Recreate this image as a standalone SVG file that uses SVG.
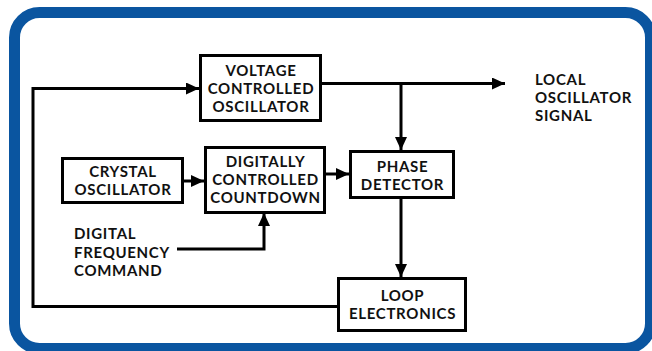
<svg xmlns="http://www.w3.org/2000/svg" width="652" height="351" viewBox="0 0 652 351">
<style>
.box{fill:#fff;stroke:#000;stroke-width:3}
.ln{fill:none;stroke:#000;stroke-width:3}
text{font-family:Lato,"Open Sans","Liberation Sans",sans-serif;font-weight:bold;font-size:15px;letter-spacing:0.7px;fill:#111}
.c{text-anchor:middle}
</style>
<defs>
<marker id="ah" viewBox="0 0 13 12" refX="13" refY="6" markerWidth="13" markerHeight="12" markerUnits="userSpaceOnUse" orient="auto">
<path d="M0,0 L13,6 L0,12 Z" fill="#000"/>
</marker>
</defs>
<rect width="652" height="351" fill="#fff"/>
<rect id="frame" x="14.5" y="12.5" width="636" height="336" rx="25" fill="#fff" stroke="#0a55a0" stroke-width="11"/>
<g id="connectors">
<path class="ln" d="M321,83.5 H505" marker-end="url(#ah)"/>
<path class="ln" d="M401,83.5 V150" marker-end="url(#ah)"/>
<path class="ln" d="M183,181 H204" marker-end="url(#ah)"/>
<path class="ln" d="M325,174 H349" marker-end="url(#ah)"/>
<path class="ln" d="M177,249 H264 V213" marker-end="url(#ah)"/>
<path class="ln" d="M401,198 V277" marker-end="url(#ah)"/>
<path class="ln" d="M337,306.5 H33 V88.5 H199" marker-end="url(#ah)"/>
</g>
<g id="vco">
<rect class="box" x="200.5" y="55.5" width="120" height="65"/>
<text class="c" x="261" y="76">VOLTAGE</text>
<text class="c" x="261" y="94">CONTROLLED</text>
<text class="c" x="261" y="112">OSCILLATOR</text>
</g>
<g id="crystal">
<rect class="box" x="62.5" y="158.5" width="120" height="44"/>
<text class="c" x="123" y="177">CRYSTAL</text>
<text class="c" x="123" y="195">OSCILLATOR</text>
</g>
<g id="dcc">
<rect class="box" x="205.5" y="147.5" width="119" height="65"/>
<text class="c" x="265.5" y="167">DIGITALLY</text>
<text class="c" x="265.5" y="185">CONTROLLED</text>
<text class="c" x="265.5" y="203">COUNTDOWN</text>
</g>
<g id="phase">
<rect class="box" x="350.5" y="151.5" width="103" height="46"/>
<text class="c" x="402.5" y="172">PHASE</text>
<text class="c" x="402.5" y="190">DETECTOR</text>
</g>
<g id="loop">
<rect class="box" x="338.5" y="278.5" width="127" height="52"/>
<text class="c" x="402.5" y="301">LOOP</text>
<text class="c" x="402.5" y="319">ELECTRONICS</text>
</g>
<g id="lo-label">
<text x="535" y="85">LOCAL</text>
<text x="535" y="103">OSCILLATOR</text>
<text x="535" y="121">SIGNAL</text>
</g>
<g id="dfc-label">
<text x="74" y="239">DIGITAL</text>
<text x="74" y="257.5">FREQUENCY</text>
<text x="74" y="276">COMMAND</text>
</g>
</svg>
